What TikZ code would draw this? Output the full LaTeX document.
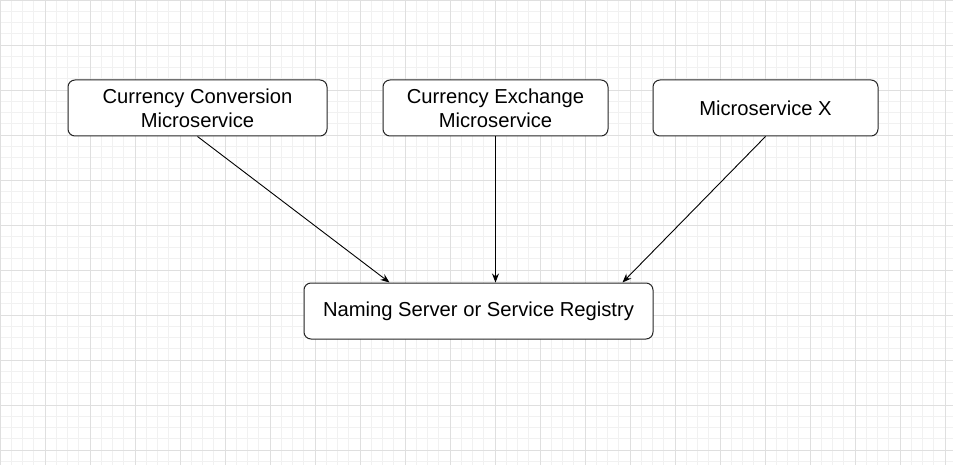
\documentclass[tikz,border=0pt]{standalone}
\usepackage{fontspec}
\setmainfont{Liberation Sans}
\usetikzlibrary{arrows.meta}
\definecolor{minorline}{HTML}{F1F1F1}
\definecolor{majorline}{HTML}{DFDFDF}

\begin{document}
\begin{tikzpicture}[x=1pt,y=-1pt,
    box/.style={draw=black!85,line width=1pt,rounded corners=7pt,fill=white,
        inner sep=0pt,minimum height=56pt,align=center,
        font=\fontsize{20.2}{24}\selectfont}]
                    \fill[white] (0,0) rectangle (953,465);
                    \useasboundingbox (0,0) rectangle (953,465);
                    \draw[minorline,line width=0.7pt] (0,0) grid[step=11.25pt] (953,465);
                    \draw[majorline,line width=0.9pt] (0,0) grid[step=45pt] (953,465);

                    \node[box,minimum width=259pt] at (197.5,108) (conv) {Currency Conversion\\Microservice};
                    \node[box,minimum width=225pt] at (495.5,108) (exch) {Currency Exchange\\Microservice};
                    \node[box,minimum width=225pt] at (765.5,108) (msx) {Microservice X};
                    \node[box,minimum width=349pt] at (478.5,311) (reg) {Naming Server or Service Registry};

                    \draw[->,>={Stealth[length=9pt,width=7pt]},line width=0.9pt] (conv.south) -- ([xshift=86pt]reg.north west);
                    \draw[->,>={Stealth[length=9pt,width=7pt]},line width=0.9pt] (exch.south) -- (exch.south |- reg.north);
                    \draw[->,>={Stealth[length=9pt,width=7pt]},line width=0.9pt] (msx.south) -- ([xshift=-31pt]reg.north east);
                \end{tikzpicture}
\end{document}
